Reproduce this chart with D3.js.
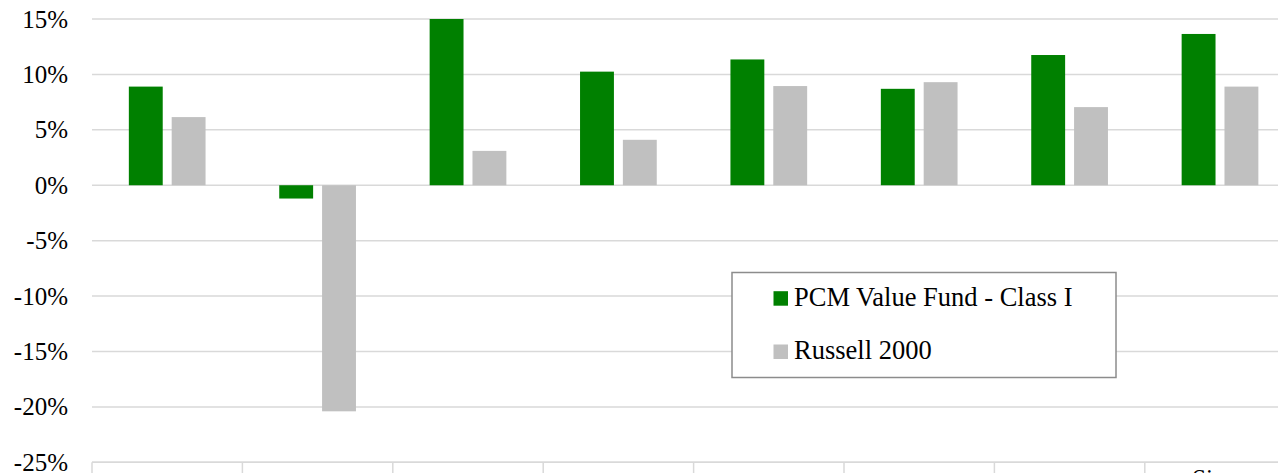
<!DOCTYPE html>
<html>
<head>
<meta charset="utf-8">
<script src="https://cdn.jsdelivr.net/npm/d3@7"></script>
<style>
  html, body { margin: 0; padding: 0; background: #fff; overflow: hidden; }
  svg { display: block; }
</style>
</head>
<body>
<svg id="chart" width="1278" height="473"></svg>
<script>
const categories = ["3 Months", "1 Year", "3 Years", "5 Years", "7 Years", "10 Years", "15 Years", "Since Inception"];
const seriesNames = ["PCM Value Fund - Class I", "Russell 2000"];
const fundValues = [8.9, -1.2, 15.0, 10.25, 11.35, 8.7, 11.75, 13.65];
const indexValues = [6.15, -20.4, 3.1, 4.1, 8.95, 9.3, 7.05, 8.9];
const yTicks = [15, 10, 5, 0, -5, -10, -15, -20, -25];
const colors = ["#008000", "#c0c0c0"];

const svg = d3.select("#chart");
const left = 92, step = 150.4;
const x = d3.scaleBand().domain(categories).range([left, left + step * categories.length]).paddingInner(0).paddingOuter(0);
const xs = d3.scaleBand().domain(seriesNames).range([0, x.bandwidth()]).paddingInner(0.209).paddingOuter(0.86);
const y = d3.scaleLinear().domain([-25, 15]).range([462.3, 19]);
const serif = "'Liberation Serif', 'Tinos', 'DejaVu Serif', 'Noto Serif', serif";

// gridlines
svg.append("g").selectAll("line").data(yTicks).join("line")
  .attr("x1", left).attr("x2", 1278)
  .attr("y1", d => y(d)).attr("y2", d => y(d))
  .attr("stroke", "#d9d9d9").attr("stroke-width", 1.5);

// y-axis labels
const yAxis = d3.axisLeft(y).tickValues(yTicks).tickSize(0).tickPadding(0).tickFormat(d => d + "%");
const yg = svg.append("g").attr("transform", "translate(68,0)").call(yAxis);
yg.attr("font-family", serif).attr("font-size", 25);
yg.select(".domain").remove();
yg.selectAll("text").attr("fill", "#000");

// bars
const data = categories.map((c, i) => ({ cat: c, vals: [fundValues[i], indexValues[i]] }));
const groups = svg.append("g").selectAll("g").data(data).join("g")
  .attr("transform", d => `translate(${x(d.cat)},0)`);
groups.selectAll("rect").data(d => d.vals.map((v, j) => ({ v, s: seriesNames[j], j })))
  .join("rect")
  .attr("x", d => xs(d.s))
  .attr("width", xs.bandwidth())
  .attr("y", d => y(Math.max(0, d.v)))
  .attr("height", d => Math.abs(y(d.v) - y(0)))
  .attr("fill", d => colors[d.j]);

// x-axis (bottom line at -25%, ticks between categories)
const xAxisLine = svg.append("g");
xAxisLine.append("line").attr("x1", left).attr("x2", 1278).attr("y1", y(-25)).attr("y2", y(-25))
  .attr("stroke", "#d9d9d9").attr("stroke-width", 1.5);
const boundaries = categories.map(c => x(c));
xAxisLine.selectAll("line.tick").data(boundaries).join("line").attr("class", "tick")
  .attr("x1", d => d).attr("x2", d => d).attr("y1", y(-25)).attr("y2", 480)
  .attr("stroke", "#d9d9d9").attr("stroke-width", 1.5);

// category labels (mostly below visible area; wrapped labels start higher)
svg.append("g").attr("font-family", serif).attr("font-size", 25)
  .selectAll("text").data(categories).join("text")
  .attr("text-anchor", "middle")
  .each(function(d) {
    const words = d.split(" ");
    const cx = x(d) + x.bandwidth() / 2;
    const t = d3.select(this);
    if (words.length > 1 && d.length > 10) {
      const lines = [words[0], words.slice(1).join(" ")];
      lines.forEach((ln, k) => t.append("tspan").attr("x", cx).attr("y", 487 + k * 28).text(ln));
    } else {
      t.attr("x", cx).attr("y", 501).text(d);
    }
  });

// legend
const lg = svg.append("g").attr("font-family", serif).attr("font-size", 26.5);
lg.append("rect").attr("x", 732).attr("y", 272.5).attr("width", 384).attr("height", 105)
  .attr("fill", "#fff").attr("stroke", "#8c8c8c").attr("stroke-width", 1.5);
seriesNames.forEach((name, i) => {
  const by = 305.7 + i * 53.3;
  lg.append("rect").attr("x", 773.5).attr("y", by - 14.5).attr("width", 14.5).attr("height", 14.5).attr("fill", colors[i]);
  lg.append("text").attr("x", 794).attr("y", by).attr("fill", "#000").text(name);
});
</script>
</body>
</html>
